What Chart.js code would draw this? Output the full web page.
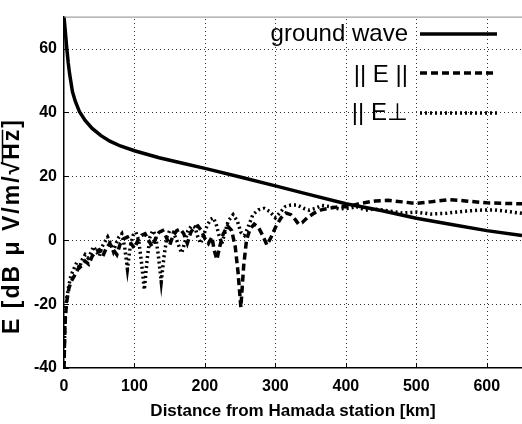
<!DOCTYPE html>
<html>
<head>
<meta charset="utf-8">
<script src="https://cdn.jsdelivr.net/npm/chart.js@4"></script>
<style>
  html, body { margin: 0; padding: 0; background: #fff; }
  #wrap { width: 522px; height: 424px; position: relative; }
</style>
</head>
<body>
<div id="wrap"><canvas id="c"></canvas></div>
<script>
// ground wave
const gwKm = [0, 2, 4, 6, 8, 12, 16, 22, 30, 40, 52, 65, 80, 100, 135, 170, 200, 250, 300, 350, 400, 450, 500, 550, 600, 650];
const gwE  = [70, 65, 60, 55.5, 52, 46.5, 43.5, 40.2, 37.5, 35, 32.8, 31, 29.5, 28, 25.8, 24, 22.5, 19.8, 17, 14.2, 11.4, 9.3, 6.9, 4.9, 3, 1.5];

// ||E||
const parKm = [
  0, 1, 2, 4, 7, 10, 15, 20, 25, 30,
  35, 40, 45, 50, 55, 60, 65, 70, 75, 80,
  85, 90, 95, 100, 105, 110, 115, 120, 125, 130,
  135, 140, 145, 150, 155, 160, 165, 170, 175, 180,
  185, 190, 195, 200, 205, 210, 213, 217, 221, 226,
  232, 238, 243, 247, 251, 255, 259, 264, 270, 276,
  282, 288, 294, 300, 308, 315, 322, 328, 333, 338,
  345, 355, 365, 376, 390, 404, 420, 442, 460, 480,
  500, 520, 546, 570, 600, 625, 650];
const parE = [
  -40, -30, -24, -19, -15, -13, -11, -9, -8, -6.5,
  -7.5, -5, -3.5, -3, -5, -2.5, -1, -3, -4.5, -1,
  0.5, 1, -1, -2.5, 0, 1.5, 2, 0, -2, 0.5,
  2.5, 3, 1, -1.5, 1.5, 3, 3.5, 2, -1, 2.5,
  4, 4.5, 3, 0.5, -1, 1, -3, -6, -2, 2,
  4.5, 3, -2, -10, -21, -8, 0, 3.5, 5, 4,
  1.5, -1.5, 1, 4, 7, 8.5, 8, 6.5, 5, 5.5,
  7, 8.5, 9.5, 10, 10.5, 10.5, 11.5, 12.3, 12.5, 12,
  11.5, 12, 12.7, 12.3, 11.7, 11.5, 11.4];

// ||E perp
const perpKm = [
  0, 1, 2, 4, 7, 10, 14, 18, 22, 26,
  30, 34, 38, 42, 46, 50, 54, 58, 62, 66,
  70, 74, 78, 82, 86, 90, 94, 98, 102, 106,
  110, 114, 118, 122, 126, 130, 134, 138, 142, 146,
  150, 155, 160, 164, 167, 171, 176, 181, 186, 190,
  194, 198, 203, 208, 212, 216, 220, 224, 228, 233,
  240, 246, 251, 256, 261, 268, 276, 284, 292, 300,
  306, 314, 322, 331, 340, 348, 357, 366, 378, 390,
  404, 415, 428, 440, 460, 480, 500, 520, 541, 565,
  588, 610, 630, 650];
const perpE = [
  -40, -28, -22, -18, -14, -11, -9, -7, -8.5, -6,
  -4.5, -5.5, -4, -2, -3.5, -5, -2, -0.5, 1, -1,
  -3.5, -1, 1, 2, -2, -9, -2, 1.5, 2.5, 0,
  -7, -15.5, -6, 1, 3, 1.5, -5, -13, -5, 1,
  3, 2.5, 0, -2.5, -4, -1, 3, 4.5, 4, 1,
  -1, 1.5, 4.5, 6.5, 7, 5, 1.5, -1, 2, 6,
  8, 6, 2.5, 1.5, 4, 8, 9.5, 10, 9, 7,
  8.5, 10.5, 11, 11, 10, 9.4, 10, 10.9, 10.5, 9.8,
  10, 10.5, 9.4, 9.8, 9.2, 8.5, 8.8, 8.2, 8.4, 9,
  9.4, 9.5, 9, 8.4];

const xTicks = [0, 100, 200, 300, 400, 500, 600];
const yTicks = [-40, -20, 0, 20, 40, 60];

const FONT = '"Liberation Sans", Arial, sans-serif';

function pts(xs, ys) { return xs.map((x, i) => ({ x: x, y: ys[i] })); }

// dotted grid under the curves
const gridPlugin = {
  id: 'dotGrid',
  beforeDatasetsDraw(chart) {
    const ctx = chart.ctx;
    const a = chart.chartArea;
    const xs = chart.scales.x, ys = chart.scales.y;
    ctx.save();
    ctx.strokeStyle = '#333';
    ctx.lineWidth = 1;
    ctx.setLineDash([1, 3]);
    ctx.beginPath();
    xTicks.forEach(v => {
      if (v === 0) return;
      const px = Math.round(xs.getPixelForValue(v)) + 0.5;
      ctx.moveTo(px, a.bottom);
      ctx.lineTo(px, a.top);
    });
    yTicks.forEach(v => {
      if (v === -40) return;
      const py = Math.round(ys.getPixelForValue(v)) + 0.5;
      ctx.moveTo(a.left, py);
      ctx.lineTo(a.right, py);
    });
    ctx.stroke();
    ctx.restore();
  }
};

// legend on the right, text before the line sample
const legendPlugin = {
  id: 'sideLegend',
  afterDraw(chart) {
    const ctx = chart.ctx;
    const rows = [
      { text: 'ground wave', ty: 41, ly: 34 },
      { text: '|| E ||', ty: 82, ly: 73 },
      { text: '|| E\u22A5', ty: 120, ly: 113 }
    ];
    ctx.save();
    ctx.font = '24px ' + FONT;
    ctx.fillStyle = '#000';
    ctx.textAlign = 'right';
    ctx.textBaseline = 'alphabetic';
    chart.data.datasets.forEach((ds, i) => {
      const r = rows[i];
      ctx.fillText(r.text, 408, r.ty);
      ctx.beginPath();
      ctx.setLineDash(ds.borderDash || []);
      ctx.lineWidth = ds.borderWidth;
      ctx.strokeStyle = ds.borderColor;
      ctx.moveTo(420, r.ly);
      ctx.lineTo(497, r.ly);
      ctx.stroke();
    });
    ctx.restore();
  }
};

// frame, inner ticks and y title with a root sign
const framePlugin = {
  id: 'frame',
  afterDraw(chart) {
    const ctx = chart.ctx;
    const a = chart.chartArea;
    const xs = chart.scales.x, ys = chart.scales.y;
    ctx.save();
    ctx.strokeStyle = '#888';
    ctx.lineWidth = 1;
    ctx.beginPath();
    ctx.moveTo(a.left, a.top + 0.5);
    ctx.lineTo(a.right, a.top + 0.5);
    ctx.stroke();

    ctx.strokeStyle = '#000';
    ctx.beginPath();
    xTicks.forEach(v => {
      const px = Math.round(xs.getPixelForValue(v)) + 0.5;
      ctx.moveTo(px, a.bottom);
      ctx.lineTo(px, a.bottom - 5);
    });
    yTicks.forEach(v => {
      const py = Math.round(ys.getPixelForValue(v)) + 0.5;
      ctx.moveTo(a.left, py);
      ctx.lineTo(a.left + 5, py);
    });
    ctx.stroke();

    // y title
    const pre = 'E [dB \u03BC V/m/\u221A';
    const hz = 'Hz';
    const post = ']';
    ctx.translate(13, 226);
    ctx.rotate(-Math.PI / 2);
    ctx.font = 'bold 23px ' + FONT;
    ctx.letterSpacing = '2px';
    ctx.fillStyle = '#000';
    ctx.textBaseline = 'middle';
    ctx.textAlign = 'left';
    const wPre = ctx.measureText(pre).width;
    const wHz = ctx.measureText(hz).width;
    const wAll = wPre + wHz + ctx.measureText(post).width;
    const x0 = -wAll / 2;
    ctx.fillText(pre, x0, 0);
    ctx.fillText(hz, x0 + wPre, 0);
    ctx.fillText(post, x0 + wPre + wHz, 0);
    ctx.lineWidth = 1.5;
    ctx.beginPath();
    ctx.moveTo(x0 + wPre - 3, -10.5);
    ctx.lineTo(x0 + wPre + wHz - 2, -10.5);
    ctx.stroke();
    ctx.restore();
  }
};

new Chart(document.getElementById('c'), {
  type: 'line',
  data: {
    datasets: [
      { label: 'ground wave', data: pts(gwKm, gwE), borderColor: '#000', borderWidth: 3.5, borderDash: [] },
      { label: '||E||', data: pts(parKm, parE), borderColor: '#000', borderWidth: 3.5, borderDash: [7, 4] },
      { label: '||E\u22A5', data: pts(perpKm, perpE), borderColor: '#000', borderWidth: 3.5, borderDash: [2, 3] }
    ]
  },
  options: {
    responsive: true,
    maintainAspectRatio: false,
    animation: false,
    layout: { padding: { top: 5, right: 0, left: 0, bottom: 0 } },
    elements: { point: { radius: 0 }, line: { tension: 0, borderCapStyle: 'butt' } },
    plugins: { legend: { display: false }, tooltip: { enabled: false } },
    scales: {
      x: {
        type: 'linear', min: 0, max: 650,
        afterBuildTicks: s => { s.ticks = xTicks.map(v => ({ value: v })); },
        afterFit: s => { s.height = 56; },
        grid: { display: false, drawTicks: false },
        border: { display: true, color: '#000', width: 1.5 },
        ticks: { color: '#000', padding: 9, maxRotation: 0, font: { family: FONT, size: 16, weight: 'bold' } },
        title: { display: true, text: 'Distance from Hamada station [km]', color: '#000', padding: { top: 0, bottom: 2 }, font: { family: FONT, size: 17, weight: 'bold' } }
      },
      y: {
        type: 'linear', min: -40, max: 70,
        afterBuildTicks: s => { s.ticks = yTicks.map(v => ({ value: v })); },
        afterFit: s => { s.width = 64; },
        grid: { display: false, drawTicks: false },
        border: { display: true, color: '#000', width: 1.5 },
        ticks: { color: '#000', padding: 7, font: { family: FONT, size: 16, weight: 'bold' } }
      }
    }
  },
  plugins: [gridPlugin, legendPlugin, framePlugin]
});
</script>
</body>
</html>
